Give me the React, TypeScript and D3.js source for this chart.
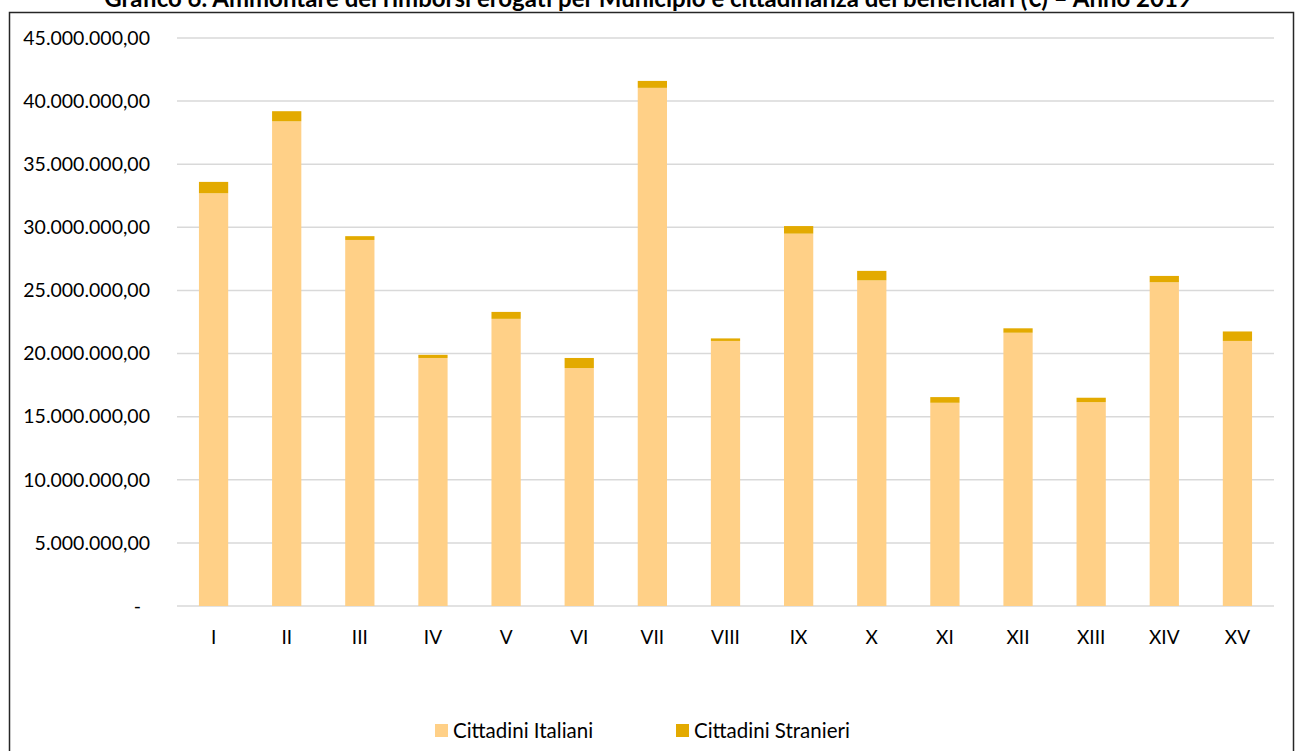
import React from 'react';
import * as d3 from 'd3';

// Municipi and amounts (€)
const municipi = ['I', 'II', 'III', 'IV', 'V', 'VI', 'VII', 'VIII', 'IX', 'X', 'XI', 'XII', 'XIII', 'XIV', 'XV'];
const italiani = [32700000, 38400000, 29000000, 19650000, 22750000, 18850000, 41050000, 21000000, 29500000, 25800000, 16100000, 21650000, 16150000, 25650000, 21000000];
const stranieri = [900000, 800000, 300000, 250000, 550000, 800000, 550000, 200000, 600000, 750000, 450000, 350000, 350000, 500000, 750000];
const yTicks = [0, 5000000, 10000000, 15000000, 20000000, 25000000, 30000000, 35000000, 40000000, 45000000];
const seriesNames = ['Cittadini Italiani', 'Cittadini Stranieri'];

const W = 1296;
const H = 751;
const colors = ['#FFD087', '#E3AA00'];
const font = 'Lato, "Noto Sans", sans-serif';

const fmt = (v: number) => {
  if (v === 0) return '-';
  const s = d3.format(',.2f')(v);
  return s.replace(/,/g, '#').replace('.', ',').replace(/#/g, '.');
};

export default function App() {
  const left = 177, right = 1274, top = 38, bottom = 606;
  const x = d3.scaleBand<string>().domain(municipi).range([left, right]).paddingInner(0).paddingOuter(0);
  const y = d3.scaleLinear().domain([0, 45000000]).range([bottom, top]);
  const barW = x.step() * 0.4;

  const rows = municipi.map((m, i) => ({ m, it: italiani[i], st: stranieri[i] }));
  const stack = d3.stack<any>().keys(['it', 'st'])(rows);

  return (
    <svg width={W} height={H} style={{ position: 'absolute', left: 0, top: 0, background: '#fff' }} fontFamily={font}>
      <defs>
        <clipPath id="titleclip">
          <rect x={0} y={0} width={W} height={11} />
        </clipPath>
      </defs>
      <text x={W / 2} y={7} textAnchor="middle" fontSize={24} fontWeight="bold" fill="#000" clipPath="url(#titleclip)">
        Grafico 6. Ammontare dei rimborsi erogati per Municipio e cittadinanza dei beneficiari (€) – Anno 2019
      </text>
      <rect x={9.5} y={12.5} width={1284} height={760} fill="#fff" stroke="#262626" strokeWidth={1.5} />

      {yTicks.map(t => (
        <g key={t}>
          <line x1={left} x2={right} y1={y(t)} y2={y(t)} stroke="#d9d9d9" strokeWidth={1.5} />
          <text x={t === 0 ? 141 : 150} y={y(t)} dy="0.35em" textAnchor="end" fontSize={19.5} fill="#000">
            {fmt(t)}
          </text>
        </g>
      ))}

      {stack.map((s, si) => (
        <g key={si} fill={colors[si]}>
          {s.map((d, i) => (
            <rect
              key={i}
              x={(x(municipi[i]) as number) + x.step() / 2 - barW / 2}
              width={barW}
              y={y(d[1])}
              height={y(d[0]) - y(d[1])}
            />
          ))}
        </g>
      ))}

      {municipi.map(m => (
        <text key={m} x={(x(m) as number) + x.step() / 2} y={644} textAnchor="middle" fontSize={19} fill="#000">
          {m}
        </text>
      ))}

      {seriesNames.map((n, i) => {
        const lx = i === 0 ? 435 : 676;
        return (
          <g key={n}>
            <rect x={lx} y={724} width={13} height={13} fill={colors[i]} />
            <text x={lx + 18} y={738} fontSize={20.5} fill="#000">{n}</text>
          </g>
        );
      })}
    </svg>
  );
}
